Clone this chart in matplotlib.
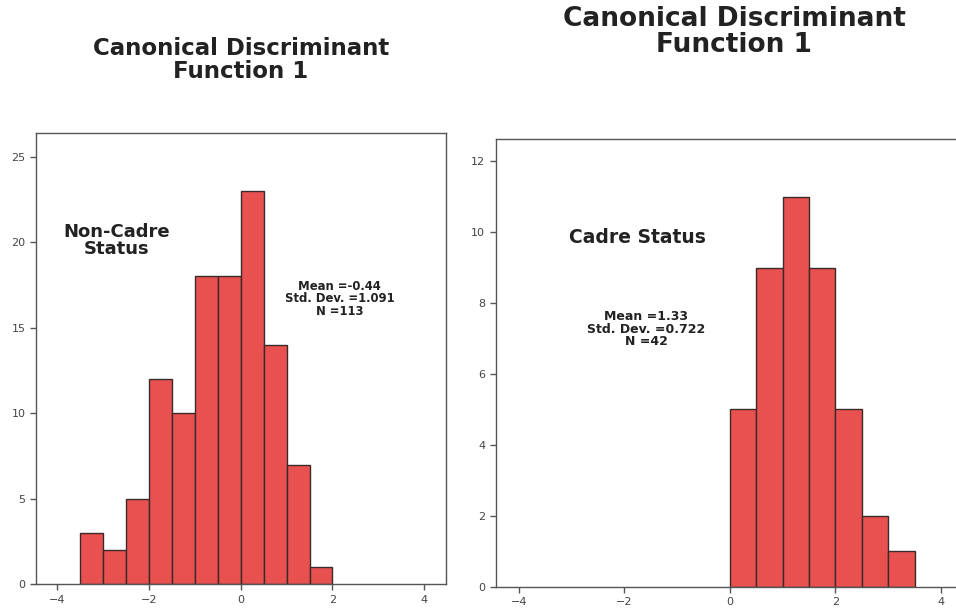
import numpy as np
import matplotlib
matplotlib.use("Agg")
import matplotlib.pyplot as plt

# bin edges (width 0.5) and counts
noncadre_edges = [-3.5, -3.0, -2.5, -2.0, -1.5, -1.0, -0.5, 0.0, 0.5, 1.0, 1.5, 2.0]
noncadre_counts = [3, 2, 5, 12, 10, 18, 18, 23, 14, 7, 1]

cadre_edges = [0.0, 0.5, 1.0, 1.5, 2.0, 2.5, 3.0, 3.5]
cadre_counts = [5, 9, 11, 9, 5, 2, 1]

title = "Canonical Discriminant\nFunction 1"
noncadre_label = "Non-Cadre\nStatus"
cadre_label = "Cadre Status"
noncadre_stats = "Mean =-0.44\nStd. Dev. =1.091\nN =113"
cadre_stats = "Mean =1.33\nStd. Dev. =0.722\nN =42"

x_ticks = [-4, -2, 0, 2, 4]
noncadre_yticks = [0, 5, 10, 15, 20, 25]
cadre_yticks = [0, 2, 4, 6, 8, 10, 12]

BAR = "#e8514f"
EDGE = "#3a2a2a"
TITLE_FONT = ["Liberation Sans Narrow", "DejaVu Sans"]

fig = plt.figure(figsize=(9.56, 6.09), dpi=100)
fig.patch.set_facecolor("white")

ax1 = fig.add_axes([0.0377, 0.0406, 0.4286, 0.7406])
ax2 = fig.add_axes([0.5185, 0.0366, 0.4857, 0.7351])


def draw_hist(ax, edges, counts, xlim, ylim, yticks):
    edges = np.array(edges)
    ax.bar(edges[:-1], counts, width=np.diff(edges), align="edge",
           color=BAR, edgecolor=EDGE, linewidth=1.0)
    ax.set_xlim(*xlim)
    ax.set_ylim(*ylim)
    ax.set_xticks(x_ticks)
    ax.set_yticks(yticks)
    ax.tick_params(direction="out", length=4, width=1, colors="#555555",
                   labelsize=8, labelcolor="#444444", top=False, right=False)
    for s in ax.spines.values():
        s.set_color("#555555")
        s.set_linewidth(1.0)


draw_hist(ax1, noncadre_edges, noncadre_counts, (-4.46, 4.47), (0, 26.37), noncadre_yticks)
draw_hist(ax2, cadre_edges, cadre_counts, (-4.44, 4.36), (0, 12.63), cadre_yticks)

# panel labels
ax1.text(-2.7, 20.1, noncadre_label, ha="center", va="center", fontsize=13,
         fontweight="bold", color="#222222", linespacing=0.95)
ax1.text(2.16, 16.7, noncadre_stats, ha="center", va="center", fontsize=8.4,
         fontweight="bold", color="#222222", linespacing=0.95)
ax2.text(-1.76, 9.84, cadre_label, ha="center", va="center", fontsize=13.5,
         fontweight="bold", color="#222222")
ax2.text(-1.59, 7.27, cadre_stats, ha="center", va="center", fontsize=9,
         fontweight="bold", color="#222222", linespacing=0.95)

# titles above each panel
fig.text(241 / 956, 1 - 60 / 609, title, ha="center", va="center",
         fontsize=16.5, fontweight="bold", family=TITLE_FONT,
         color="#222222", linespacing=0.95)
fig.text(734 / 956, 1 - 32 / 609, title, ha="center", va="center",
         fontsize=19, fontweight="bold", family=TITLE_FONT,
         color="#222222", linespacing=0.95)

fig.savefig("out.png", dpi=100)
